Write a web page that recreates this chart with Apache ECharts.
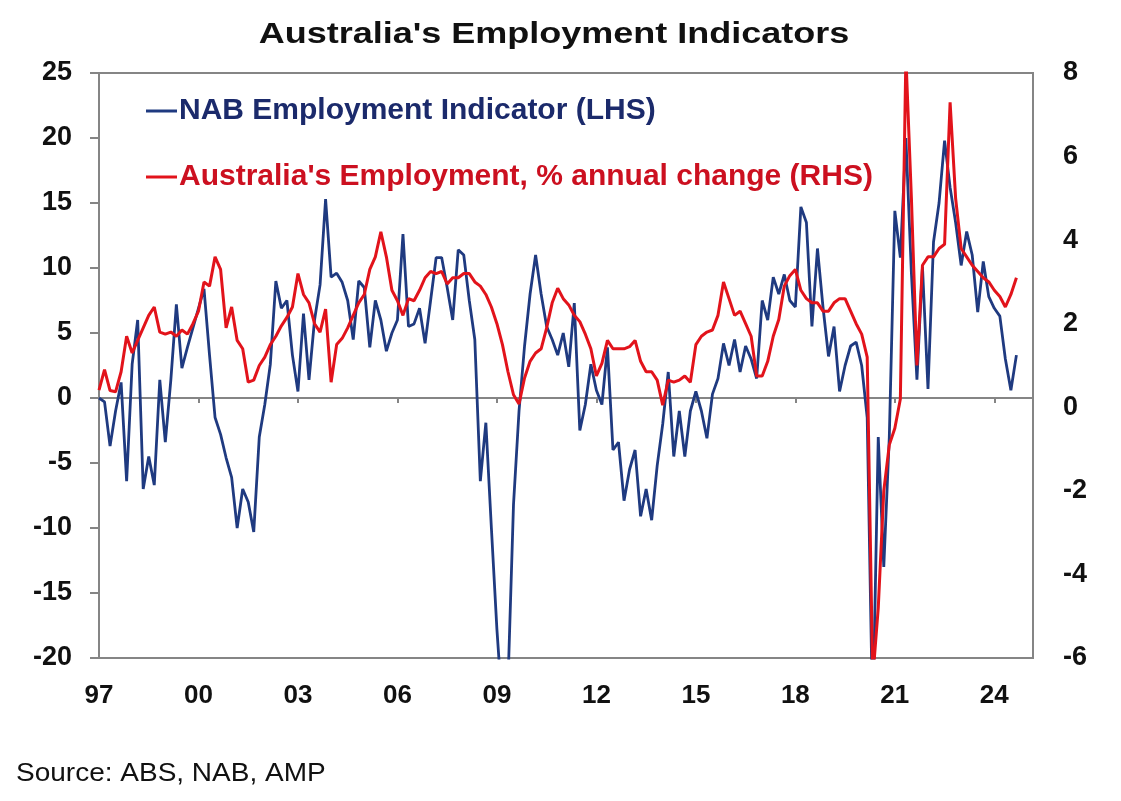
<!DOCTYPE html>
<html>
<head>
<meta charset="utf-8">
<title>Australia's Employment Indicators</title>
<script src="https://cdn.jsdelivr.net/npm/echarts@6/dist/echarts.min.js"></script>
<style>
  html, body { margin: 0; padding: 0; background: #fff; }
  #chart { width: 1121px; height: 801px; }
</style>
</head>
<body>
<div id="chart"></div>
<script>
// one value every 2 months, starting Jan 1997
const startYear = 1997;
const stepMonths = 2;

// NAB Employment Indicator (LHS)
const nabIndex = [
  0, -0.3, -3.7, -1.0, 1.2, -6.4, 2.6, 6.0, -7.0, -4.5,
  -6.7, 1.4, -3.4, 1.4, 7.2, 2.3, 3.9, 5.4, 6.9, 8.4,
  3.3, -1.5, -2.8, -4.6, -6.1, -10, -7, -8, -10.3, -3,
  -0.5, 2.6, 9.0, 6.9, 7.5, 3.3, 0.5, 6.5, 1.4, 6.0,
  8.7, 15.3, 9.3, 9.6, 8.9, 7.5, 4.5, 9.0, 8.5, 3.9,
  7.5, 6.0, 3.6, 5.0, 6.0, 12.6, 5.5, 5.7, 6.9, 4.2,
  7.5, 10.8, 10.8, 8.5, 6.0, 11.4, 11.0, 7.5, 4.5, -6.4,
  -1.9, -10, -17.8, -24, -22, -8.2, -1, 4.0, 8.0, 11.0,
  8.0, 5.5, 4.5, 3.3, 5.0, 2.4, 7.3, -2.5, -0.5, 2.6,
  0.6, -0.5, 3.9, -4, -3.4, -7.9, -5.5, -4, -9.1, -7,
  -9.4, -5.2, -2, 2, -4.5, -1, -4.5, -1, 0.5, -1,
  -3.1, 0.3, 1.5, 4.2, 2.5, 4.5, 2.0, 4.0, 3.0, 1.5,
  7.5, 6.0, 9.3, 8.0, 9.5, 7.5, 7.0, 14.7, 13.5, 5.5,
  11.5, 7.0, 3.2, 5.5, 0.5, 2.5, 4.0, 4.3, 2.5, -1.5,
  -25, -3.0, -13, -3.0, 14.4, 10.8, 20, 9.6, 1.4, 10.1,
  0.7, 12.0, 15.0, 19.8, 16.2, 13.5, 10.2, 12.8, 11.0, 6.6,
  10.5, 7.8, 6.9, 6.3, 3.0, 0.6, 3.3
];

// Australia's Employment, % annual change (RHS)
const employmentGrowth = [
  0.41, 0.9, 0.4, 0.37, 0.85, 1.7, 1.3, 1.6, 1.9, 2.2,
  2.4, 1.8, 1.75, 1.8, 1.7, 1.85, 1.75, 2.0, 2.3, 3.0,
  2.9, 3.6, 3.3, 1.9, 2.4, 1.6, 1.4, 0.6, 0.65, 1.0,
  1.2, 1.5, 1.7, 1.95, 2.15, 2.4, 3.2, 2.7, 2.5, 2.0,
  1.8, 2.35, 0.6, 1.5, 1.65, 1.9, 2.2, 2.5, 2.7, 3.3,
  3.6, 4.2, 3.6, 2.8, 2.55, 2.2, 2.6, 2.55, 2.8, 3.1,
  3.25, 3.2, 3.25, 2.95, 3.1, 3.1, 3.2, 3.2, 3.0, 2.9,
  2.7, 2.4, 2.0, 1.5, 0.85, 0.3, 0.08, 0.7, 1.1, 1.3,
  1.4, 1.9, 2.5, 2.85, 2.6, 2.45, 2.2, 2.05, 1.75, 1.4,
  0.75, 1.05, 1.6, 1.4, 1.4, 1.4, 1.45, 1.6, 1.1, 0.85,
  0.85, 0.65, 0.05, 0.65, 0.6, 0.65, 0.75, 0.6, 1.5, 1.7,
  1.8, 1.85, 2.2, 3.0, 2.6, 2.2, 2.3, 2.0, 1.7, 0.75,
  0.75, 1.1, 1.7, 2.1, 2.9, 3.15, 3.3, 2.8, 2.6, 2.5,
  2.5, 2.3, 2.3, 2.5, 2.6, 2.6, 2.3, 2.0, 1.75, 1.2,
  -6.5, -4.8, -2.0, -0.9, -0.5, 0.2, 8.4, 5.0, 1.0, 3.4,
  3.6, 3.6, 3.8, 3.9, 7.3, 5.0, 3.8, 3.6, 3.4, 3.25,
  3.1, 3.0, 2.8, 2.65, 2.4, 2.7, 3.1
];

// x labels every 3 years, from 97 to 24
const labelEveryMonths = 36;
const lastLabelMonth = 324;
const axisEndMonth = 338;

const titleText = "Australia's Employment Indicators";
const sourceText = "Source: ABS, NAB, AMP";

const blue = "#1f3a80";
const red = "#e2131b";
const font = "'Liberation Sans', Arial, sans-serif";

const chart = echarts.init(document.getElementById("chart"));

function toPoints(values) {
  return values.map((v, i) => [i * stepMonths, v]);
}

function yearLabel(m) {
  if (m % labelEveryMonths !== 0 || m > lastLabelMonth) return "";
  const y = (startYear + m / 12) % 100;
  return String(y).padStart(2, "0");
}

const option = {
  animation: false,
  backgroundColor: "#fff",
  legend: {
    orient: "vertical",
    left: 146,
    top: 96,
    padding: 0,
    itemGap: 36,
    itemWidth: 31,
    itemHeight: 3,
    icon: "rect",
    textStyle: { fontFamily: font, fontSize: 30, fontWeight: "bold", padding: [0, 0, 0, -3] },
    data: [
      { name: "NAB Employment Indicator (LHS)", textStyle: { color: "#1b2a6b" } },
      { name: "Australia's Employment, % annual change (RHS)", textStyle: { color: "#cc1020" } },
    ],
  },
  grid: {
    left: 99,
    right: 88,
    top: 73,
    bottom: 143,
    show: true,
    borderColor: "#858585",
    borderWidth: 2,
  },
  xAxis: [
    {
      type: "value",
      min: 0,
      max: axisEndMonth,
      interval: labelEveryMonths,
      position: "bottom",
      axisLine: { show: false, onZero: false },
      axisTick: { show: false },
      splitLine: { show: false },
      axisLabel: {
        showMaxLabel: false,
        margin: 25,
        fontFamily: font,
        fontSize: 26,
        fontWeight: "bold",
        color: "#111",
        formatter: yearLabel,
      },
    },
    {
      type: "value",
      min: 0,
      max: axisEndMonth,
      interval: labelEveryMonths,
      position: "top",
      axisLine: { show: true, onZero: true, onZeroAxisIndex: 0, lineStyle: { color: "#858585", width: 2 } },
      axisTick: {
        show: true,
        inside: true,
        length: 5,
        lineStyle: { color: "#858585", width: 2 },
      },
      splitLine: { show: false },
      axisLabel: { show: false },
    },
  ],
  yAxis: [
    {
      type: "value",
      min: -20,
      max: 25,
      interval: 5,
      position: "left",
      axisLine: { show: false },
      axisTick: { show: true, length: 9, lineStyle: { color: "#858585", width: 2 } },
      splitLine: { show: false },
      axisLabel: { margin: 27, fontFamily: font, fontSize: 27, fontWeight: "bold", color: "#111" },
    },
    {
      type: "value",
      min: -6,
      max: 8,
      interval: 2,
      position: "right",
      axisLine: { show: false },
      axisTick: { show: false },
      splitLine: { show: false },
      axisLabel: { margin: 30, fontFamily: font, fontSize: 27, fontWeight: "bold", color: "#111" },
    },
  ],
  series: [
    {
      name: "NAB Employment Indicator (LHS)",
      type: "line",
      xAxisIndex: 0,
      yAxisIndex: 0,
      data: toPoints(nabIndex),
      showSymbol: false,
      symbol: "none",
      lineStyle: { color: blue, width: 2.8 },
      itemStyle: { color: blue },
      z: 2,
    },
    {
      name: "Australia's Employment, % annual change (RHS)",
      type: "line",
      xAxisIndex: 0,
      yAxisIndex: 1,
      data: toPoints(employmentGrowth),
      showSymbol: false,
      symbol: "none",
      lineStyle: { color: red, width: 3 },
      itemStyle: { color: red },
      z: 3,
    },
  ],
  graphic: [
    {
      // the reference text is slightly stretched sideways
      type: "text",
      x: 554,
      y: 35,
      scaleX: 1.2,
      style: {
        text: titleText,
        fontFamily: font,
        fontSize: 30,
        fontWeight: "bold",
        fill: "#111",
        align: "center",
        verticalAlign: "middle",
      },
    },
    {
      type: "text",
      x: 16,
      y: 774,
      scaleX: 1.12,
      style: {
        text: sourceText,
        fontFamily: font,
        fontSize: 25,
        fill: "#111",
        align: "left",
        verticalAlign: "middle",
      },
    },
  ],
};

chart.setOption(option);

window.addEventListener("resize", () => {
  chart.resize();
});
</script>
</body>
</html>
